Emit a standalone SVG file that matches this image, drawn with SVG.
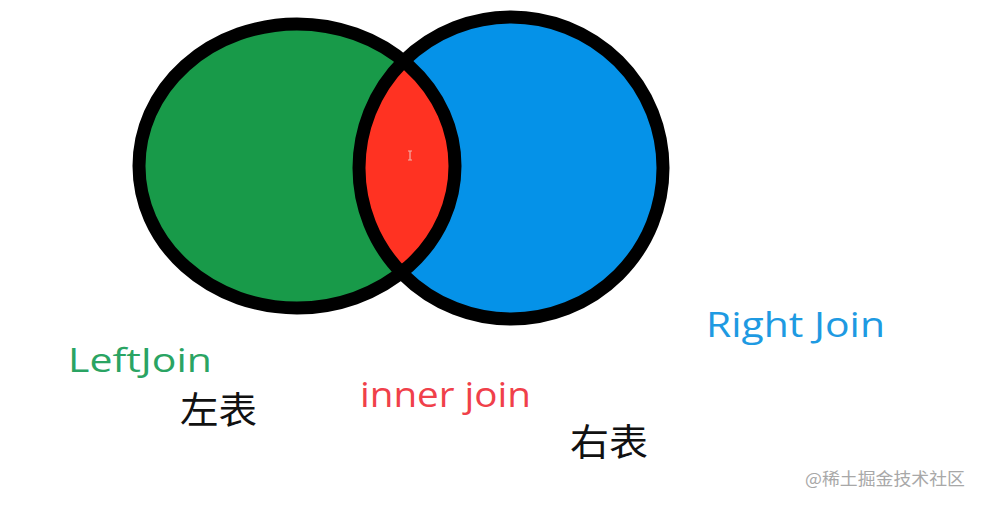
<svg xmlns="http://www.w3.org/2000/svg" width="981" height="505" viewBox="0 0 981 505">
  <defs>
    <style>
      .ring { fill: none; stroke: #000; stroke-width: 13; }
      .lbl { font-family: "Open Sans", "Noto Sans", "Liberation Sans", sans-serif; }
      .cjk { font-family: "Noto Sans CJK SC", sans-serif; fill: #111; }
    </style>
    <clipPath id="rightClip">
      <ellipse cx="511" cy="168" rx="152" ry="151"/>
    </clipPath>
  </defs>
  <rect width="981" height="505" fill="#fff"/>

  <g id="left-table">
    <ellipse cx="297" cy="166" rx="158" ry="142" fill="#189a49"/>
  </g>
  <g id="right-table">
    <ellipse cx="511" cy="168" rx="152" ry="151" fill="#0592e8"/>
  </g>
  <g id="inner-join">
    <ellipse cx="297" cy="166" rx="158" ry="142" fill="#ff3222" clip-path="url(#rightClip)"/>
  </g>
  <g id="outlines">
    <ellipse class="ring" cx="297" cy="166" rx="158" ry="142"/>
    <ellipse class="ring" cx="511" cy="168" rx="152" ry="151"/>
  </g>
  <g id="cursor" stroke="#f3b0a8" stroke-width="1.2" fill="none">
    <path d="M408 151h4M410 151v9M408 160h4"/>
  </g>

  <g id="label-left">
    <text class="lbl" x="68" y="372" font-size="32" fill="#2aa463" textLength="144" lengthAdjust="spacingAndGlyphs">LeftJoin</text>
    <text class="cjk" x="180" y="424" font-size="37" textLength="77" lengthAdjust="spacingAndGlyphs">左表</text>
  </g>
  <g id="label-inner">
    <text class="lbl" x="360" y="407" font-size="34" fill="#f0404a" textLength="171" lengthAdjust="spacingAndGlyphs">inner join</text>
  </g>
  <g id="label-right">
    <text class="lbl" x="706" y="337" font-size="34" fill="#1e9ae2" textLength="179" lengthAdjust="spacingAndGlyphs">Right Join</text>
    <text class="cjk" x="570" y="456" font-size="37" textLength="78" lengthAdjust="spacingAndGlyphs">右表</text>
  </g>
  <g id="watermark">
    <text x="805" y="485" font-family="Noto Sans CJK SC, sans-serif" font-size="17" fill="#a8a8a8" textLength="160" lengthAdjust="spacingAndGlyphs">@稀土掘金技术社区</text>
  </g>
</svg>
